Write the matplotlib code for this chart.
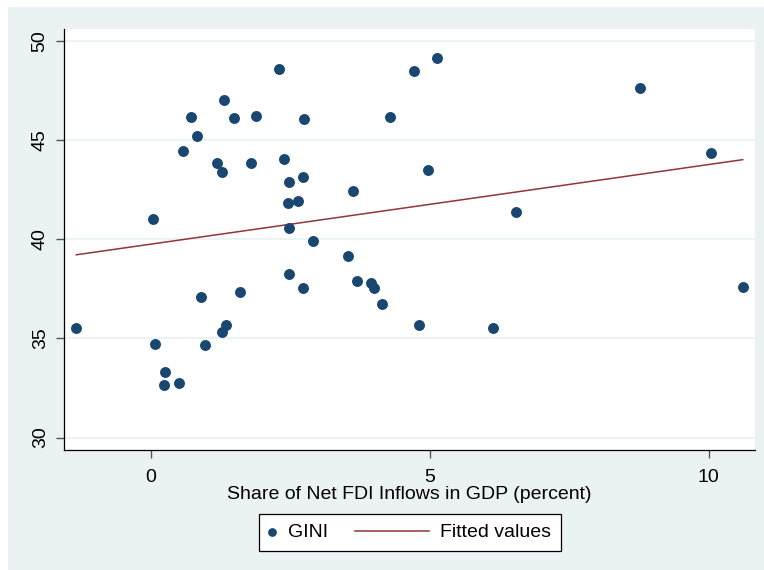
import numpy as np
import matplotlib
matplotlib.use("Agg")
import matplotlib.pyplot as plt
import matplotlib.patches as mpatches

plt.rcParams["font.family"] = "Liberation Sans"

# %% Data

fdi = [-1.34, 0.04, 0.07, 0.25, 0.24, 0.50, 0.58, 0.72, 0.83, 0.90,
       0.96, 1.19, 1.27, 1.28, 1.31, 1.35, 1.48, 1.60, 1.79, 1.89,
       2.30, 2.38, 2.46, 2.47, 2.47, 2.48, 2.63, 2.72, 2.73, 2.75,
       2.90, 3.54, 3.63, 3.70, 3.94, 3.99, 4.14, 4.29, 4.71, 4.81,
       4.97, 5.13, 6.14, 6.54, 8.76, 10.04, 10.61]
gini = [35.53, 41.02, 34.70, 33.31, 32.64, 32.75, 44.47, 46.18, 45.21, 37.10,
        34.65, 43.83, 35.31, 43.39, 47.02, 35.69, 46.12, 37.33, 43.83, 46.23,
        48.60, 44.05, 41.83, 40.59, 38.27, 42.87, 41.95, 37.53, 43.14, 46.07,
        39.91, 39.16, 42.44, 37.91, 37.78, 37.54, 36.75, 46.17, 48.50, 35.69,
        43.51, 49.13, 35.53, 41.36, 47.63, 44.37, 37.58]

x_ticks = [0, 5, 10]
y_ticks = [30, 35, 40, 45, 50]
x_title = "Share of Net FDI Inflows in GDP (percent)"

# %% Linear fit (like Stata lfit)

b, a = np.polyfit(fdi, gini, 1)
x_fit = np.array([min(fdi), max(fdi)])
y_fit = a + b * x_fit

# %% Plot

navy = "#1a476f"
maroon = "#90353b"
bg = "#eaf2f3"
W, H = 764, 570

fig = plt.figure(figsize=(W / 100, H / 100), dpi=100)
fig.patch.set_facecolor("white")
fig.patches.append(mpatches.Rectangle((8 / W, 0), 1, 563 / H,
                                      transform=fig.transFigure,
                                      facecolor=bg, edgecolor="none",
                                      zorder=0))

ax = fig.add_axes([64 / W, 120 / H, 691 / W, 421 / H])
ax.set_zorder(2)
ax.set_facecolor("white")

sc = ax.scatter(fdi, gini, s=62, color=navy, zorder=3, label="GINI",
                linewidths=0)
ln, = ax.plot(x_fit, y_fit, color=maroon, lw=1.1, zorder=2,
              label="Fitted values")

ax.set_xlim(-1.56, 10.83)
ax.set_ylim(29.37, 50.6)
ax.set_xticks(x_ticks)
ax.set_yticks(y_ticks)
ax.set_yticklabels([str(v) for v in y_ticks], rotation=90, va="center")
ax.tick_params(axis="both", labelsize=14, length=6, width=1,
               color="#555555")
ax.tick_params(axis="x", pad=8)
ax.tick_params(axis="y", pad=5)

ax.yaxis.grid(True, color=bg, lw=1.3)
ax.set_axisbelow(True)

for s in ["top", "right"]:
    ax.spines[s].set_visible(False)
for s in ["left", "bottom"]:
    ax.spines[s].set_color("black")
    ax.spines[s].set_linewidth(0.9)

ax.set_xlabel(x_title, fontsize=14, labelpad=-0.5)

# legend: one frame, two entries with their own handle widths
fig.patches.append(mpatches.Rectangle((259 / W, 1 - 551 / H), 302 / W, 37 / H,
                                      transform=fig.transFigure,
                                      facecolor="white", edgecolor="black",
                                      lw=0.9, zorder=4))
ymid = 1 - 532.5 / H
fig.legend([sc], ["GINI"], loc="center left",
           bbox_to_anchor=(262 / W, ymid), fontsize=14, frameon=False,
           markerscale=0.8, handlelength=1.0, handletextpad=0.35,
           borderpad=0, borderaxespad=0)
fig.legend([ln], ["Fitted values"], loc="center left",
           bbox_to_anchor=(355 / W, ymid), fontsize=14, frameon=False,
           handlelength=3.8, handletextpad=0.57,
           borderpad=0, borderaxespad=0)

fig.savefig("out.png", dpi=100)
